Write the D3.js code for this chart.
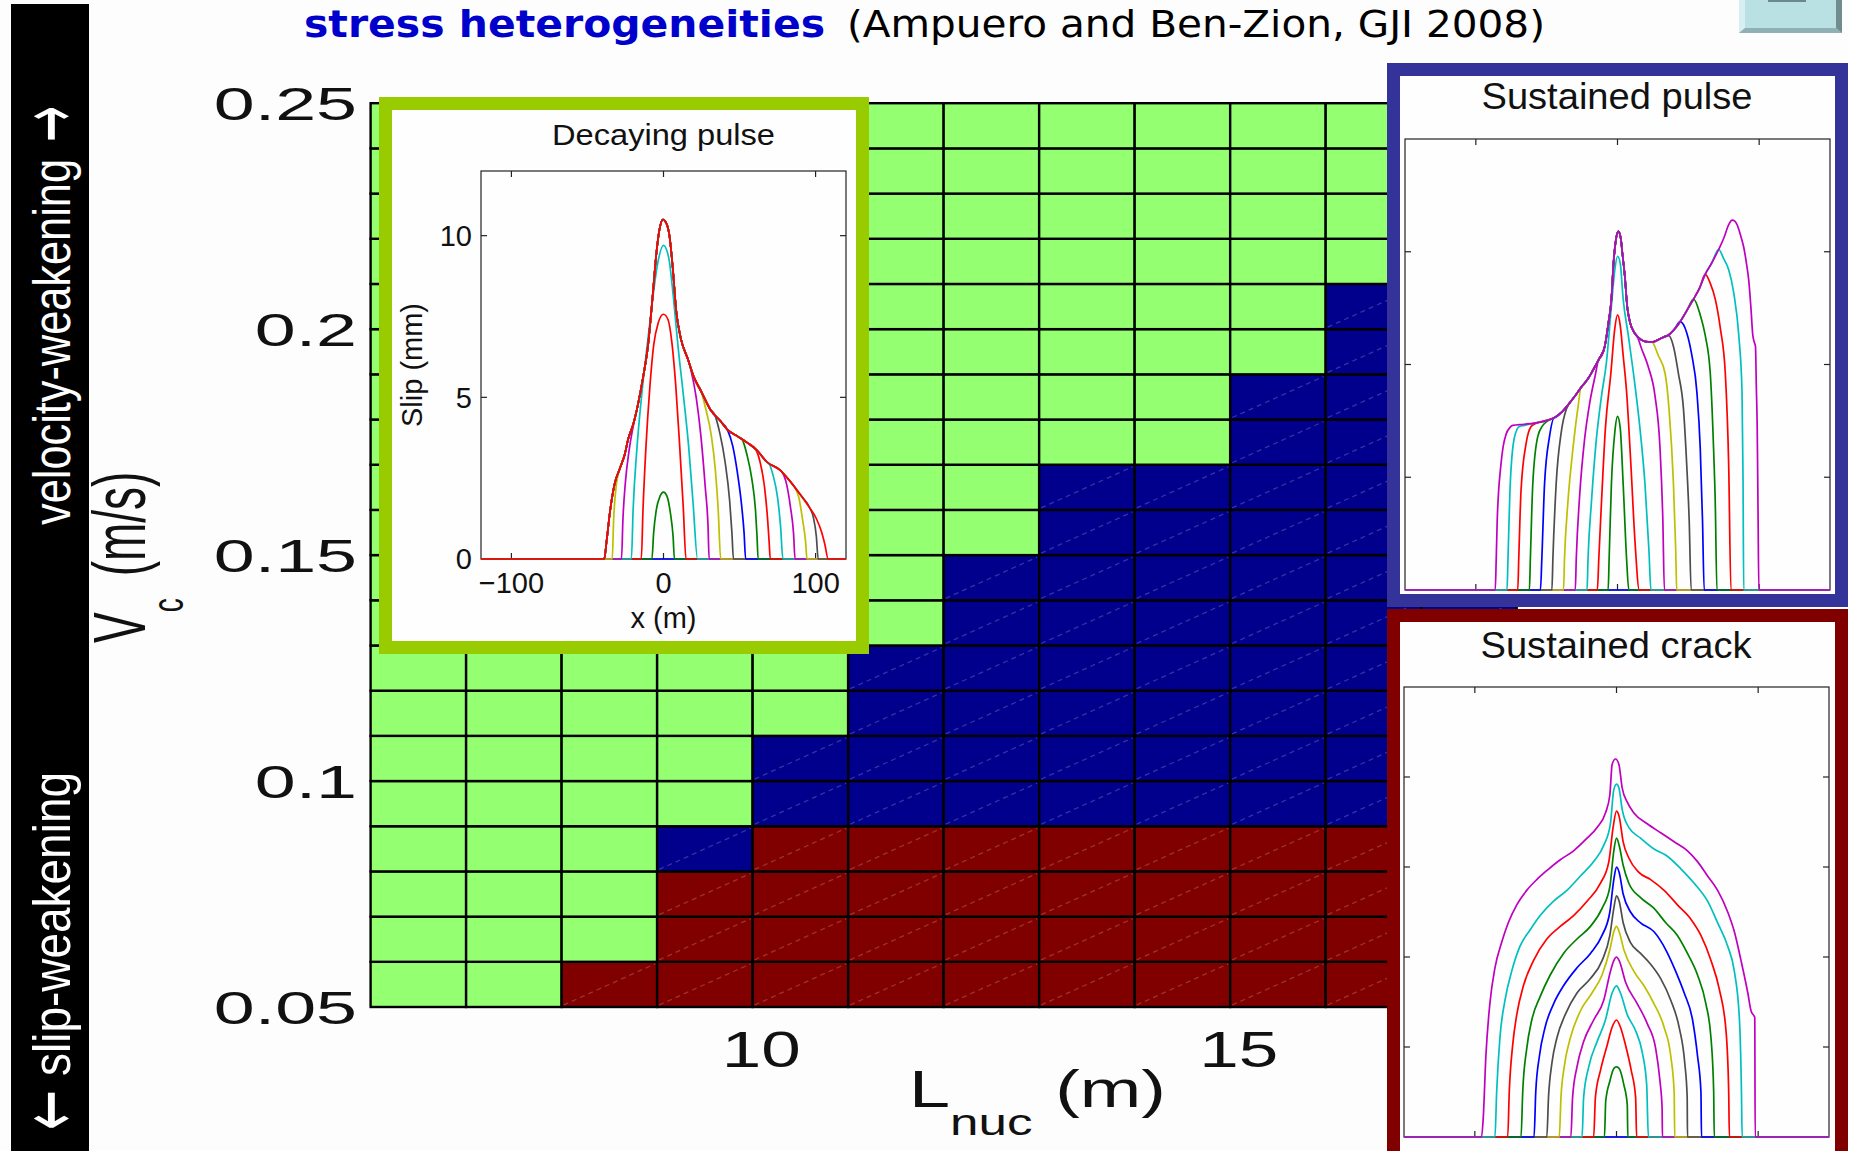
<!DOCTYPE html>
<html>
<head>
<meta charset="utf-8">
<script src="https://cdn.jsdelivr.net/npm/d3@7"></script>
<style>
  html, body { margin: 0; padding: 0; background: #fdfdfd; }
  svg { display: block; }
  text { font-family: "Liberation Sans", Arial, Helvetica, sans-serif; }
</style>
</head>
<body>
<svg id="chart" width="1849" height="1151"></svg>
<script>
// ---------------- regime map: nucleation size vs. characteristic velocity ----------------
const lnucCols = [6, 7, 8, 9, 10, 11, 12, 13, 14, 15, 16, 17];          // left edge of each L_nuc cell (m)
const vcRows = [0.05, 0.06, 0.07, 0.08, 0.09, 0.10, 0.11, 0.12, 0.13, 0.14,
                0.15, 0.16, 0.17, 0.18, 0.19, 0.20, 0.21, 0.22, 0.23, 0.24]; // lower edge of each V_c cell (m/s)
const lnucStep = 1;
const vcStep = 0.01;
// one string per V_c row (bottom to top), one letter per L_nuc column
// G = decaying pulse, B = sustained pulse, R = sustained crack
const regimeRows = [
  "GGRRRRRRRRRR",
  "GGGRRRRRRRRR",
  "GGGRRRRRRRRR",
  "GGGBRRRRRRRR",
  "GGGGBBBBBBBB",
  "GGGGBBBBBBBB",
  "GGGGGBBBBBBB",
  "GGGGGBBBBBBB",
  "GGGGGGBBBBBB",
  "GGGGGGBBBBBB",
  "GGGGGGGBBBBB",
  "GGGGGGGBBBBB",
  "GGGGGGGGGBBB",
  "GGGGGGGGGBBB",
  "GGGGGGGGGGBB",
  "GGGGGGGGGGBB",
  "GGGGGGGGGGGG",
  "GGGGGGGGGGGG",
  "GGGGGGGGGGGG",
  "GGGGGGGGGGGG"
];
const regimeColors = { G: "#93ff71", B: "#00008c", R: "#800000" };
const vcTicks = [0.05, 0.1, 0.15, 0.2, 0.25];
const vcTickLabels = ["0.05", "0.1", "0.15", "0.2", "0.25"];
const lnucTicks = [10, 15];
const lnucTickLabels = ["10", "15"];

// ---------------- slip profiles (x in m, slip in mm) ----------------
const lineColors = { b: "#0000ff", g: "#008000", r: "#ff0000", c: "#00bfbf", m: "#bf00bf", y: "#bfbf00", k: "#4d4d4d" };

// decaying pulse: final profile, earlier snapshots follow it between their own flanks
const decayEnvelope = [
  [-39, 0], [-37.4, 0.56], [-35.2, 1.46], [-32, 2.35], [-28.7, 2.8], [-25.4, 3.25], [-23.3, 3.7],
  [-20, 4.15], [-16.7, 4.8], [-13.5, 5.6], [-10.2, 6.6], [-7, 8.2], [-4.8, 9.4], [-2.6, 10.2],
  [-0.4, 10.5], [1.7, 10.4], [3.9, 10.0], [6.1, 9.0], [8.3, 7.7], [11.5, 6.8], [15.9, 6.2],
  [20.2, 5.6], [24.6, 5.2], [31.1, 4.6], [37.6, 4.26], [42, 4.0], [48.5, 3.8], [55, 3.6],
  [61.5, 3.36], [68, 3.0], [76.7, 2.75], [83.3, 2.4], [89.8, 2.0], [96.3, 1.57], [100.7, 1.23],
  [103.9, 0.84], [106.1, 0.45], [108.3, 0]
];
const decayCurves = [
  { c: "b", pts: [] },
  { c: "g", pts: [[-7.6, 0], [-6.5, 0.8], [-4.8, 1.5], [-2.2, 1.95], [0, 2.07], [2.2, 1.95], [4.6, 1.4], [6.3, 0.7], [7.2, 0]] },
  { c: "r", pts: [[-14.6, 0], [-13.5, 1.5], [-11.5, 3.5], [-9, 5.3], [-6.5, 6.6], [-3.5, 7.3], [0, 7.57], [3, 7.4], [5.5, 6.7], [8, 5.4], [10.5, 3.6], [13, 1.6], [14.8, 0]] },
  { c: "c", pts: [[-21.1, 0], [-20, 1.5], [-17.5, 3.4], [-14.5, 5.0], [-11, 6.5], [-7.5, 7.9], [-4, 9.1], [0, 9.7], [3.5, 9.3], [6.5, 8.1], [9.5, 6.6], [13, 5.1], [16.5, 3.5], [19.5, 1.7], [22.4, 0]] },
  { c: "m", left: [[-27.6, 0], [-26.7, 1.2], [-25, 2.4], [-22.5, 3.4], [-19.5, 4.2], [-16.7, 4.8]], right: [[18, 5.85], [21.5, 5.0], [24.6, 3.8], [27.5, 2.2], [29.3, 1.0], [30, 0]] },
  { c: "y", left: [[-33.7, 0], [-32.8, 1.2], [-31, 2.3], [-28.7, 2.8]], right: [[24.6, 5.2], [28, 4.6], [31.5, 3.8], [34, 2.8], [36, 1.5], [37.6, 0]] },
  { c: "k", left: [], right: [[33.3, 4.5], [37, 3.9], [40.5, 3.0], [43.5, 1.8], [45, 0.8], [46, 0]] },
  { c: "b", left: [], right: [[42, 4.0], [45.5, 3.5], [48.5, 2.7], [51.5, 1.6], [53, 0.8], [54, 0]] },
  { c: "g", left: [], right: [[51.7, 3.7], [55, 3.2], [58, 2.5], [60.5, 1.5], [61.5, 0.7], [62.2, 0]] },
  { c: "r", left: [], right: [[60.4, 3.4], [63.5, 3.0], [66.5, 2.2], [68.5, 1.2], [69.5, 0.5], [70.2, 0]] },
  { c: "c", left: [], right: [[69.1, 2.97], [72, 2.6], [75, 1.9], [77, 1.0], [78.5, 0]] },
  { c: "m", left: [], right: [[77.8, 2.7], [80.5, 2.4], [83.5, 1.6], [85.5, 0.8], [86.5, 0]] },
  { c: "y", left: [], right: [[86.5, 2.2], [89, 1.9], [91.5, 1.2], [93.5, 0.5], [94.3, 0]] },
  { c: "k", left: [], right: [[96.3, 1.57], [98.5, 1.3], [100.5, 0.7], [101.7, 0]] },
  { c: "r", left: [], right: [] }
];

// sustained pulse
const pulseEnvelope = [
  [-86.3, 0], [-85.6, 1.4], [-84.9, 3.1], [-83.8, 4.5], [-82.7, 5.3], [-80.6, 6.4], [-78.7, 6.9],
  [-76, 7.2], [-74, 7.3], [-66, 7.35], [-58.6, 7.4], [-51, 7.5], [-44.4, 7.65], [-40, 7.85],
  [-35, 8.2], [-30, 8.6], [-25.5, 9.0], [-20.5, 9.4], [-16, 9.9], [-12.5, 10.3], [-9, 10.8],
  [-6.5, 11.8], [-4.3, 12.9], [-2.8, 14.5], [-1.4, 15.4], [0.5, 15.9], [2.3, 15.6], [3.5, 14.9],
  [5.2, 13.9], [6.8, 12.6], [8.7, 11.9], [11.5, 11.45], [14.7, 11.2], [18, 11.05], [21.7, 11.0],
  [25, 11.0], [28.8, 11.1], [32, 11.2], [35.9, 11.3], [40, 11.55], [44.2, 11.9], [49, 12.4],
  [53.7, 12.9], [58, 13.4], [61.9, 14.0], [66.5, 14.5], [71.4, 15.1], [75, 15.6], [78.5, 16.2],
  [80.9, 16.4], [83, 16.35], [84.4, 16.2], [87, 15.7], [89.1, 15.2], [91, 14.5], [92.7, 13.7],
  [94.2, 12.5], [95.5, 11.3], [96.5, 11.0], [97.4, 10.8], [98.0, 9.0], [98.6, 7.3], [99.2, 3.5], [99.8, 0]
];
const pulseCurves = [
  { c: "b", pts: [] },
  { c: "g", pts: [[-6.6, 0], [-5.9, 1.4], [-4.3, 4.7], [-1.9, 7.0], [0, 7.7], [1.9, 7.2], [4.0, 4.7], [6.4, 1.4], [8.0, 0]] },
  { c: "r", pts: [[-14.2, 0], [-13.2, 1.4], [-11.3, 3.9], [-8.5, 7.2], [-4.7, 9.6], [-1.9, 11.6], [0, 12.2], [1.9, 11.75], [4.0, 10.4], [6.4, 8.8], [9.5, 5.5], [12.3, 2.2], [15.4, 0]] },
  { c: "c", pts: [[-21.5, 0], [-20.8, 1.4], [-18.4, 3.9], [-14.9, 6.7], [-11.3, 8.6], [-7.8, 10.1], [-4.3, 12.6], [-1.9, 14.2], [0, 14.8], [1.9, 14.5], [4.0, 12.9], [7.6, 11.3], [12.3, 9.1], [15.8, 7.2], [19.4, 4.7], [22.2, 1.75], [23.6, 0]] },
  { c: "m", left: [[-29.8, 0], [-29.1, 1.4], [-26.7, 4.2], [-23.2, 6.7], [-19.6, 8.3], [-16.1, 9.4], [-12.6, 10.3]], right: [[13.5, 11.3], [17, 10.7], [21.7, 9.9], [26.5, 8.6], [30, 6.3], [32, 3.1], [33.1, 0]] },
  { c: "y", left: [[-38.1, 0], [-37.4, 1.4], [-35, 3.9], [-31.4, 6.3], [-27.9, 8.1], [-25.6, 9.0]], right: [[24.1, 11.0], [28.8, 10.4], [33.6, 9.6], [36.4, 8.0], [39.5, 4.7], [41.1, 1.75], [41.8, 0]] },
  { c: "k", left: [[-46.3, 0], [-45.6, 1.4], [-43.3, 4.7], [-39.7, 7.0], [-36.2, 8.0], [-33.8, 8.3]], right: [[35.9, 11.3], [39.5, 10.8], [43, 9.6], [46.6, 8.0], [48.9, 5.5], [50.6, 3.1], [52, 0]] },
  { c: "b", left: [[-54.4, 0], [-53.4, 1.4], [-51.5, 4.7], [-48, 6.8], [-44.5, 7.65]], right: [[44.2, 11.9], [48.9, 11.4], [52.5, 10.4], [56, 8.8], [58.4, 6.3], [60, 3.1], [61.2, 0]] },
  { c: "g", left: [[-62.2, 0], [-61.5, 1.4], [-59.8, 4.7], [-56.3, 6.8], [-52.7, 7.3], [-49.2, 7.5]], right: [[53.7, 12.9], [58.4, 12.2], [61.9, 11.3], [65.5, 9.6], [67.8, 6.3], [69, 3.9], [70.2, 0]] },
  { c: "r", left: [[-70.4, 0], [-69.7, 1.4], [-68.1, 4.4], [-64.5, 6.5], [-61, 7.25], [-57.4, 7.4]], right: [[61.9, 14.0], [65.5, 13.6], [69, 12.9], [72.6, 11.6], [76.1, 9.6], [78.5, 5.5], [80.1, 0]] },
  { c: "c", left: [[-78, 0], [-77.3, 1.4], [-75.7, 4.7], [-72.8, 6.75], [-69.3, 7.25], [-65.7, 7.3]], right: [[71.4, 15.1], [74.9, 14.7], [78.5, 14.2], [82, 13.2], [85.6, 11.3], [87.9, 8.8], [88.6, 5.0], [89.1, 0]] },
  { c: "m", left: [], right: [] }
];

// sustained crack
const crackCurves = [
  { c: "b", pts: [] },
  { c: "g", pts: [[-8.5, 0], [-7.6, 2.0], [-4.7, 3.1], [-1.9, 3.8], [0, 3.9], [1.9, 3.8], [5.2, 2.9], [7.6, 1.8], [8.0, 0]] },
  { c: "r", pts: [[-16.1, 0], [-14.9, 2.2], [-11.3, 3.7], [-6.6, 5.1], [-3.1, 6.1], [0, 6.5], [2.8, 6.1], [6.4, 5.1], [10.4, 3.7], [13.5, 2.2], [14.2, 0]] },
  { c: "c", pts: [[-24.3, 0], [-23.2, 2.2], [-19.6, 3.9], [-13.7, 5.3], [-7.8, 6.5], [-3.1, 8.0], [0, 8.4], [2.8, 8.0], [7.6, 6.8], [13.5, 5.9], [18.2, 4.7], [21.3, 2.9], [22.5, 0]] },
  { c: "m", pts: [[-32.2, 0], [-31.0, 2.2], [-27.9, 3.9], [-23.2, 5.3], [-16.1, 6.5], [-9.0, 7.6], [-4.3, 9.2], [-1.9, 9.8], [0, 10.0], [1.9, 9.8], [6.4, 8.6], [14.7, 7.4], [21.7, 6.3], [27.7, 4.9], [30.7, 3.1], [32.2, 1.6], [32.4, 0]] },
  { c: "y", pts: [[-40.4, 0], [-39.2, 2.2], [-36.9, 3.9], [-32.6, 5.5], [-25.5, 7.0], [-17.3, 8.0], [-10.2, 9.0], [-4.7, 10.4], [-1.9, 11.4], [0, 11.7], [1.9, 11.4], [5.2, 10.4], [12.3, 9.2], [19.4, 8.4], [26.5, 7.4], [33.6, 6.1], [38.3, 4.5], [40.7, 2.5], [41.1, 0]] },
  { c: "k", pts: [[-49.2, 0], [-48.0, 2.2], [-45.6, 4.1], [-42.1, 5.5], [-36.2, 6.8], [-27.9, 8.0], [-18.4, 8.8], [-10.2, 9.8], [-4.7, 11.2], [-1.9, 12.7], [0, 13.4], [1.9, 13.1], [4.7, 11.9], [9.9, 10.8], [17.0, 10.2], [24.1, 9.6], [31.2, 8.8], [38.3, 7.6], [44.2, 6.1], [48.2, 4.1], [49.9, 2.2], [50.1, 0]] },
  { c: "b", pts: [[-58.2, 0], [-57.0, 2.5], [-54.4, 4.5], [-50.4, 6.1], [-44.4, 7.4], [-37.4, 8.4], [-27.9, 9.4], [-18.4, 10.2], [-10.2, 11.2], [-4.7, 12.5], [-1.9, 14.3], [0, 15.0], [1.9, 14.7], [4.7, 13.5], [9.9, 12.5], [17.0, 11.9], [26.5, 11.4], [34.8, 10.4], [41.8, 9.2], [47.8, 8.0], [53.7, 6.5], [57.2, 4.5], [59.6, 2.5], [60.0, 0]] },
  { c: "g", pts: [[-67.4, 0], [-66.2, 2.5], [-63.4, 4.9], [-59.8, 6.5], [-53.9, 7.8], [-46.8, 9.0], [-37.4, 10.2], [-27.9, 11.0], [-18.4, 11.7], [-10.2, 12.7], [-4.7, 13.9], [-1.9, 15.9], [0, 16.6], [1.9, 16.2], [4.7, 15.1], [8.7, 14.1], [17.0, 13.3], [26.5, 12.7], [34.8, 11.9], [43.0, 11.2], [50.1, 10.2], [57.2, 9.0], [63.1, 7.4], [66.7, 5.5], [68.6, 2.5], [69.0, 0]] },
  { c: "r", pts: [[-76.8, 0], [-75.7, 2.5], [-73.3, 5.1], [-70.4, 6.8], [-65.7, 8.4], [-58.6, 9.8], [-49.2, 11.0], [-39.7, 11.7], [-30.3, 12.3], [-20.8, 13.1], [-11.3, 14.1], [-5.4, 15.3], [-2.4, 17.2], [0, 18.1], [1.9, 17.8], [4.7, 16.4], [8.7, 15.5], [15.8, 14.7], [24.1, 14.3], [33.6, 13.7], [43.0, 12.9], [52.5, 12.1], [59.6, 11.2], [66.7, 9.8], [72.6, 8.2], [77.3, 5.9], [79.2, 2.5], [79.7, 0]] },
  { c: "c", pts: [[-85.8, 0], [-84.6, 2.5], [-82.3, 5.5], [-78.7, 7.6], [-74.0, 9.2], [-68.1, 10.6], [-61.0, 11.5], [-53.9, 12.3], [-44.4, 13.1], [-35.0, 13.7], [-25.5, 14.5], [-16.1, 15.3], [-9.0, 16.2], [-4.3, 17.4], [-1.9, 19.3], [0, 19.6], [1.7, 19.4], [4.0, 18.2], [8.7, 17.2], [17.0, 16.6], [26.5, 16.0], [35.9, 15.6], [45.4, 14.9], [54.8, 14.1], [64.3, 13.1], [71.4, 11.9], [78.5, 10.6], [83.2, 9.2], [86.8, 6.5], [88.2, 2.5], [88.7, 0]] },
  { c: "m", pts: [[-95.3, 0], [-94.1, 1.0], [-92.2, 4.5], [-89.4, 7.4], [-85.8, 9.4], [-81.1, 10.8], [-76.4, 11.9], [-70.4, 12.9], [-63.4, 13.7], [-56.3, 14.3], [-49.2, 14.8], [-39.7, 15.4], [-30.3, 15.9], [-20.8, 16.6], [-13.7, 17.2], [-7.8, 18.0], [-4.7, 19.0], [-3.1, 20.7], [-0.7, 21.0], [1.7, 20.7], [4.0, 19.4], [7.6, 18.6], [12.3, 18.0], [21.7, 17.4], [31.2, 16.9], [40.7, 16.4], [50.1, 15.9], [57.2, 15.3], [64.3, 14.5], [71.4, 13.7], [78.5, 12.5], [83.2, 11.4], [87.9, 9.8], [92.7, 8.0], [95.0, 7.0], [96.9, 6.75], [97.6, 6.65], [97.9, 0]] }
];

// ---------------- text ----------------
const titleMain = "stress heterogeneities";
const titleRef = "(Ampuero and Ben-Zion, GJI 2008)";
const bannerTop = "velocity-weakening";
const bannerBottom = "slip-weakening";
const arrowUp = "\u2192";
const arrowDown = "\u2190";

// =====================================================================
const W = 1849, H = 1151;
const svg = d3.select("#chart");
svg.append("rect").attr("width", W).attr("height", H).attr("fill", "#fdfdfd");

// ---- vertical banner on the left ----
const banner = svg.append("g");
banner.append("rect").attr("x", 11).attr("y", 4).attr("width", 78).attr("height", H - 4).attr("fill", "#000");
function bannerText(str, bx, by, size, len, family) {
  const t = banner.append("text")
    .attr("transform", `translate(${bx},${by}) rotate(-90)`)
    .attr("fill", "#fff").attr("font-size", size)
    .attr("textLength", len).attr("lengthAdjust", "spacingAndGlyphs")
    .text(str);
  if (family) t.style("font-family", family);
}
bannerText(bannerTop, 70, 525, 51, 366);
bannerText(arrowUp, 77, 142, 82, 36, "'DejaVu Sans', sans-serif");
bannerText(arrowDown, 77, 1130, 82, 40, "'DejaVu Sans', sans-serif");
bannerText(bannerBottom, 70, 1076, 51, 304);

// ---- heading ----
svg.append("text").attr("x", 304).attr("y", 37)
  .style("font-family", "'DejaVu Sans', sans-serif").attr("font-weight", "bold")
  .attr("font-size", 38).attr("fill", "#0000cc")
  .attr("textLength", 521).attr("lengthAdjust", "spacingAndGlyphs")
  .text(titleMain);
svg.append("text").attr("x", 847).attr("y", 37)
  .style("font-family", "'DejaVu Sans', sans-serif")
  .attr("font-size", 38).attr("fill", "#000")
  .attr("textLength", 698).attr("lengthAdjust", "spacingAndGlyphs")
  .text(titleRef);

// ---- small navigation button, top right ----
const btn = svg.append("g");
btn.append("rect").attr("x", 1739).attr("y", 0).attr("width", 103).attr("height", 33).attr("fill", "#b9e0e3");
btn.append("polygon").attr("points", "1739,0 1745,0 1745,28 1739,33").attr("fill", "#d8eff1");
btn.append("polygon").attr("points", "1739,33 1745,28 1836,28 1842,33").attr("fill", "#8fb1b3");
btn.append("polygon").attr("points", "1836,0 1842,0 1842,33 1836,28").attr("fill", "#6f8d8f");
btn.append("rect").attr("x", 1768).attr("y", 0).attr("width", 38).attr("height", 2).attr("fill", "#6b888a");

// ---- regime map ----
const x = d3.scaleLinear().domain([6, 18]).range([370.6, 1516.7]);
const y = d3.scaleLinear().domain([0.05, 0.25]).range([1007, 103.2]);

const cells = [];
regimeRows.forEach((row, i) => {
  [...row].forEach((code, j) => cells.push({ l: lnucCols[j], v: vcRows[i], code }));
});

const map = svg.append("g");
map.selectAll("rect.cell").data(cells).join("rect")
  .attr("class", "cell")
  .attr("x", d => x(d.l))
  .attr("y", d => y(d.v + vcStep))
  .attr("width", d => x(d.l + lnucStep) - x(d.l))
  .attr("height", d => y(d.v) - y(d.v + vcStep))
  .attr("fill", d => regimeColors[d.code])
  .attr("stroke", "#000").attr("stroke-width", 2.4);

// faint diagonal seam left in the rendered patches
map.selectAll("line.seam").data(cells.filter(d => d.code !== "G")).join("line")
  .attr("class", "seam")
  .attr("x1", d => x(d.l) + 2).attr("y1", d => y(d.v) - 2)
  .attr("x2", d => x(d.l + lnucStep) - 2).attr("y2", d => y(d.v + vcStep) + 2)
  .attr("stroke", "#ffffff").attr("stroke-opacity", 0.2)
  .attr("stroke-width", 1.3).attr("stroke-dasharray", "5,4");

// stretch helper for the wide tick labels
function widen(sel, factor) {
  sel.each(function () {
    const len = this.getComputedTextLength();
    d3.select(this).attr("textLength", len * factor).attr("lengthAdjust", "spacingAndGlyphs");
  });
}

const gy = svg.append("g").attr("transform", "translate(357,0)")
  .call(d3.axisLeft(y).tickValues(vcTicks).tickFormat((d, i) => vcTickLabels[i]).tickSize(0).tickPadding(0));
gy.select(".domain").remove();
gy.selectAll("text").attr("font-size", 46).attr("fill", "#111").attr("dy", "0.36em");
widen(gy.selectAll("text"), 1.6);

const gx = svg.append("g").attr("transform", "translate(0,1007)")
  .call(d3.axisBottom(x).tickValues(lnucTicks).tickFormat((d, i) => lnucTickLabels[i]).tickSize(0).tickPadding(24));
gx.select(".domain").remove();
gx.selectAll("text").attr("font-size", 50).attr("fill", "#111").attr("dx", 8);
widen(gx.selectAll("text"), 1.42);

// axis titles
const yTitle = svg.append("g").attr("transform", "translate(145,643) scale(1.6,1) rotate(-90)")
  .append("text").attr("font-size", 46).attr("fill", "#111");
yTitle.append("tspan").text("V");
yTitle.append("tspan").attr("font-size", 28).attr("dy", 24).text("c");
yTitle.append("tspan").attr("dy", -24).attr("dx", 22).text("(m/s)");

const xTitle = svg.append("g").attr("transform", "translate(909,1107) scale(1.42,1)")
  .append("text").attr("font-size", 52).attr("fill", "#111");
xTitle.append("tspan").text("L");
xTitle.append("tspan").attr("font-size", 36).attr("dy", 28).text("nuc");
xTitle.append("tspan").attr("dy", -28).attr("dx", 16).text("(m)");

// ---- inset panels ----
function profile(cv, env, dom) {
  let pts;
  if (cv.pts) {
    pts = cv.pts;
  } else {
    const left = cv.left || [], right = cv.right || [];
    const lx = left.length ? left[left.length - 1][0] : -Infinity;
    const rx = right.length ? right[0][0] : Infinity;
    pts = left.concat(env.filter(p => p[0] > lx && p[0] < rx), right);
  }
  return [[dom[0], 0]].concat(pts, [[dom[1], 0]]);
}

function inset(o) {
  const g = svg.append("g");
  // frame
  g.append("rect").attr("x", o.frame[0]).attr("y", o.frame[1])
    .attr("width", o.frame[2]).attr("height", o.frame[3]).attr("fill", o.frameColor);
  g.append("rect").attr("x", o.frame[0] + o.bw).attr("y", o.frame[1] + o.bw)
    .attr("width", o.frame[2] - 2 * o.bw).attr("height", o.frame[3] - 2 * o.bw).attr("fill", "#fefefe");

  const sx = d3.scaleLinear().domain(o.xDom).range(o.xRange);
  const sy = d3.scaleLinear().domain(o.yDom).range(o.yRange);

  g.append("text").attr("x", o.titlePos[0]).attr("y", o.titlePos[1])
    .attr("text-anchor", "middle").attr("font-size", o.titleSize).attr("fill", "#111")
    .attr("textLength", o.titleLen).attr("lengthAdjust", "spacingAndGlyphs")
    .text(o.title);

  // axes box with inward ticks on all four sides
  const [x0, x1] = o.xRange, [y0, y1] = o.yRange;
  g.append("rect").attr("x", x0).attr("y", y1).attr("width", x1 - x0).attr("height", y0 - y1)
    .attr("fill", "none").attr("stroke", "#222").attr("stroke-width", 1.2);
  const tl = 6;
  o.xTicks.forEach(t => {
    g.append("line").attr("x1", sx(t)).attr("x2", sx(t)).attr("y1", y0).attr("y2", y0 - tl).attr("stroke", "#222").attr("stroke-width", 1.2);
    g.append("line").attr("x1", sx(t)).attr("x2", sx(t)).attr("y1", y1).attr("y2", y1 + tl).attr("stroke", "#222").attr("stroke-width", 1.2);
  });
  o.yTicks.forEach(t => {
    g.append("line").attr("x1", x0).attr("x2", x0 + tl).attr("y1", sy(t)).attr("y2", sy(t)).attr("stroke", "#222").attr("stroke-width", 1.2);
    g.append("line").attr("x1", x1).attr("x2", x1 - tl).attr("y1", sy(t)).attr("y2", sy(t)).attr("stroke", "#222").attr("stroke-width", 1.2);
  });

  if (o.labels) {
    g.selectAll("text.xt").data(o.xTicks).join("text").attr("class", "xt")
      .attr("x", d => sx(d)).attr("y", y0 + 34).attr("text-anchor", "middle")
      .attr("font-size", 29).attr("fill", "#111").text((d, i) => o.xTickLabels[i]);
    g.selectAll("text.yt").data(o.yTicksLabelled).join("text").attr("class", "yt")
      .attr("x", x0 - 9).attr("y", d => sy(d)).attr("dy", "0.36em").attr("text-anchor", "end")
      .attr("font-size", 29).attr("fill", "#111").text((d, i) => o.yTickLabels[i]);
    g.append("text").attr("x", (x0 + x1) / 2).attr("y", o.xLabelY).attr("text-anchor", "middle")
      .attr("font-size", 29).attr("fill", "#111").text(o.xLabel);
    g.append("text").attr("transform", `translate(${o.yLabelX},${(y0 + y1) / 2}) rotate(-90)`)
      .attr("text-anchor", "middle").attr("font-size", 29).attr("fill", "#111").text(o.yLabel);
  }

  const line = d3.line().x(d => sx(d[0])).y(d => sy(d[1])).curve(d3.curveMonotoneX);
  g.selectAll("path.slip").data(o.curves).join("path").attr("class", "slip")
    .attr("d", cv => line(profile(cv, o.env || [], o.xDom)))
    .attr("fill", "none").attr("stroke", cv => lineColors[cv.c])
    .attr("stroke-width", 1.7).attr("stroke-linejoin", "round");
}

inset({
  frame: [379, 97, 490, 557], bw: 13, frameColor: "#99cc00",
  title: "Decaying pulse", titlePos: [663.5, 145], titleSize: 30, titleLen: 223,
  xDom: [-120, 120], xRange: [481, 846], yDom: [0, 12], yRange: [559, 171],
  xTicks: [-100, 0, 100], yTicks: [0, 5, 10],
  labels: true, xTickLabels: ["\u2212100", "0", "100"], yTicksLabelled: [0, 5, 10], yTickLabels: ["0", "5", "10"],
  xLabel: "x (m)", xLabelY: 628, yLabel: "Slip (mm)", yLabelX: 422,
  env: decayEnvelope, curves: decayCurves
});

inset({
  frame: [1387, 63, 461, 544], bw: 13, frameColor: "#333399",
  title: "Sustained pulse", titlePos: [1617, 109], titleSize: 37, titleLen: 271,
  xDom: [-150, 150], xRange: [1405, 1830], yDom: [0, 20], yRange: [590, 139],
  xTicks: [-100, 0, 100], yTicks: [5, 10, 15],
  env: pulseEnvelope, curves: pulseCurves
});

inset({
  frame: [1387, 609, 461, 560], bw: 13, frameColor: "#800000",
  title: "Sustained crack", titlePos: [1616, 658], titleSize: 37, titleLen: 271,
  xDom: [-150, 150], xRange: [1404, 1829], yDom: [0, 25], yRange: [1137, 687],
  xTicks: [-100, 0, 100], yTicks: [5, 10, 15, 20],
  env: [], curves: crackCurves
});
</script>
</body>
</html>
